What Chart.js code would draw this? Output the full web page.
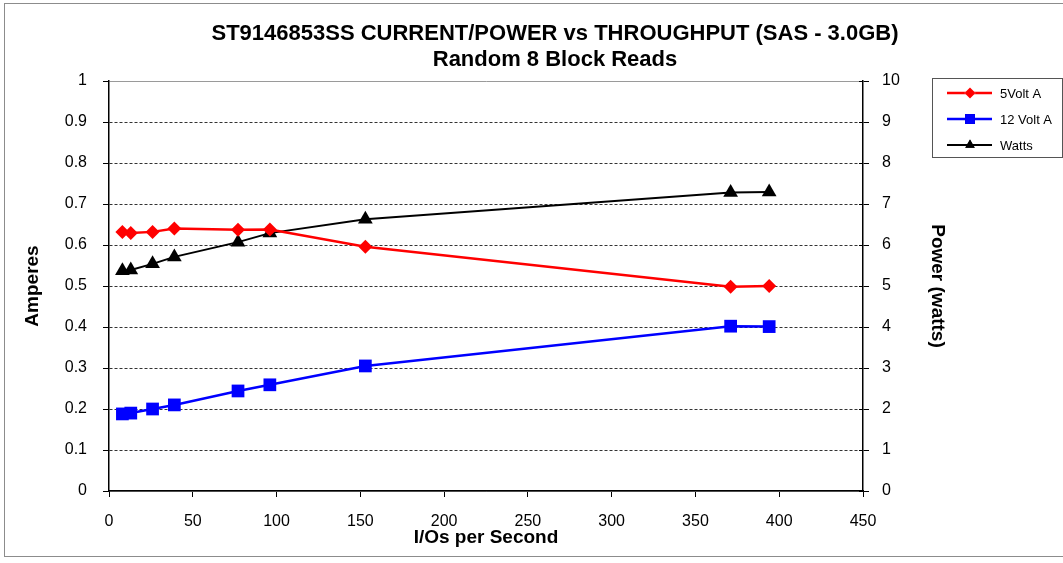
<!DOCTYPE html>
<html>
<head>
<meta charset="utf-8">
<script src="https://cdn.jsdelivr.net/npm/chart.js@4.4.1/dist/chart.umd.min.js"></script>
<style>
  html, body { margin: 0; padding: 0; background: #ffffff; }
  #wrap { width: 1063px; height: 563px; position: relative; }
</style>
</head>
<body>
<div id="wrap"><canvas id="c" width="1063" height="563"></canvas></div>
<script>
// ---- data ----
const titleLines = ["ST9146853SS CURRENT/POWER vs THROUGHPUT (SAS - 3.0GB)", "Random 8 Block Reads"];
const iops = [8, 13, 26, 39, 77, 96, 153, 371, 394];
const volt5Amps = [0.632, 0.629, 0.632, 0.640, 0.637, 0.638, 0.596, 0.498, 0.500];
const volt12Amps = [0.188, 0.190, 0.200, 0.210, 0.244, 0.259, 0.305, 0.402, 0.401];
const watts = [5.37, 5.39, 5.54, 5.71, 6.07, 6.29, 6.63, 7.28, 7.29];
const seriesNames = ["5Volt A", "12 Volt A", "Watts"];
const xAxisTitle = "I/Os per Second";
const leftAxisTitle = "Amperes";
const rightAxisTitle = "Power (watts)";

const FONT = "'Liberation Sans', Arial, Helvetica, sans-serif";
const pts = (xs, ys) => xs.map((x, i) => ({ x: x, y: ys[i] }));

const seriesStyles = [
  { color: '#ff0000', point: 'rectRot', radius: 7, width: 2.5, axis: 'y' },
  { color: '#0000ff', point: 'rect', radius: 9, width: 2.5, axis: 'y' },
  { color: '#000000', point: 'triangle', radius: 8.5, width: 2, axis: 'y1' }
];
const seriesData = [volt5Amps, volt12Amps, watts];

const datasets = seriesData.map((ys, i) => ({
  label: seriesNames[i],
  data: pts(iops, ys),
  yAxisID: seriesStyles[i].axis,
  borderColor: seriesStyles[i].color,
  backgroundColor: seriesStyles[i].color,
  borderWidth: seriesStyles[i].width,
  pointStyle: seriesStyles[i].point,
  pointRadius: seriesStyles[i].radius,
  pointHoverRadius: seriesStyles[i].radius,
  pointBorderWidth: 0,
  tension: 0
}));

const frameAndTitle = {
  id: 'frameAndTitle',
  afterDraw(chart) {
    const ctx = chart.ctx;
    ctx.save();
    // outer frame
    ctx.strokeStyle = '#8c8c8c';
    ctx.lineWidth = 1;
    ctx.strokeRect(4.5, 3.5, 1070, 553);
    // right axis ticks also cross inward
    const y1 = chart.scales.y1;
    ctx.strokeStyle = '#000';
    ctx.beginPath();
    y1.ticks.forEach(t => {
      const py = Math.round(y1.getPixelForValue(t.value)) + 0.5;
      ctx.moveTo(y1.left - 4, py);
      ctx.lineTo(y1.left, py);
    });
    ctx.stroke();
    // title
    ctx.fillStyle = '#000';
    ctx.textAlign = 'center';
    ctx.textBaseline = 'middle';
    ctx.font = 'bold 22px ' + FONT;
    ctx.fillText(titleLines[0], 555, 34);
    ctx.fillText(titleLines[1], 555, 60);
    // legend
    const lx = 932.5, ly = 78.5, lw = 130, lh = 79;
    ctx.fillStyle = '#fff';
    ctx.fillRect(lx, ly, lw, lh);
    ctx.strokeStyle = '#555';
    ctx.strokeRect(lx, ly, lw, lh);
    const rowY = [93, 119, 145];
    chart.data.datasets.forEach((ds, i) => {
      const y = rowY[i];
      ctx.strokeStyle = ds.borderColor;
      ctx.lineWidth = ds.borderWidth;
      ctx.beginPath();
      ctx.moveTo(947, y);
      ctx.lineTo(992, y);
      ctx.stroke();
      Chart.helpers.drawPoint(ctx, {
        pointStyle: ds.pointStyle,
        radius: i === 1 ? 7 : 5.5,
        borderWidth: 0,
        rotation: 0
      }, 970, y);
      ctx.fillStyle = ds.backgroundColor;
      ctx.fill();
      ctx.fillStyle = '#000';
      ctx.textAlign = 'left';
      ctx.font = '13px ' + FONT;
      ctx.fillText(ds.label, 1000, y + 1);
    });
    ctx.restore();
  }
};

const tickFont = { family: FONT, size: 16 };
const titleFont = { family: FONT, size: 19, weight: 'bold' };
const fmt = (v) => String(Number(Number(v).toFixed(2)));

new Chart(document.getElementById('c'), {
  type: 'line',
  data: { datasets: datasets },
  options: {
    responsive: false,
    animation: false,
    layout: { padding: { left: 17, right: 110, top: 81, bottom: 10 } },
    plugins: { legend: { display: false }, title: { display: false }, tooltip: { enabled: false } },
    scales: {
      x: {
        type: 'linear',
        min: 0, max: 450,
        ticks: { stepSize: 50, color: '#000', font: tickFont, padding: 15, maxRotation: 0, callback: fmt },
        grid: { drawOnChartArea: false, drawTicks: true, tickLength: 6, tickColor: '#000', tickWidth: 1 },
        border: { display: true, color: '#000', width: 1.5 },
        title: { display: true, text: xAxisTitle, color: '#000', font: titleFont },
        afterFit(s) { s.height = 62; }
      },
      y: {
        position: 'left',
        min: 0, max: 1,
        ticks: { stepSize: 0.1, color: '#000', font: tickFont, padding: 16, callback: fmt },
        grid: {
          drawOnChartArea: true, drawTicks: true, tickLength: 6,
          color: (c) => (c.tick && (c.tick.value >= 0.999 || c.tick.value <= 0.001)) ? '#9a9a9a' : '#333',
          lineWidth: 1,
          tickColor: '#000', tickWidth: 1, tickBorderDash: []
        },
        border: {
          display: true, color: '#000', width: 1.5,
          dash: (c) => (c.tick && (c.tick.value >= 0.999 || c.tick.value <= 0.001)) ? [] : [3, 2]
        },
        title: { display: true, text: leftAxisTitle, color: '#000', font: titleFont },
        afterFit(s) { s.width = 92; }
      },
      y1: {
        position: 'right',
        min: 0, max: 10,
        ticks: { stepSize: 1, color: '#000', font: tickFont, padding: 13, callback: fmt },
        grid: { drawOnChartArea: false, drawTicks: true, tickLength: 6, tickColor: '#000', tickWidth: 1 },
        border: { display: true, color: '#000', width: 1.5 },
        title: { display: true, text: rightAxisTitle, color: '#000', font: titleFont },
        afterFit(s) { s.width = 90; }
      }
    }
  },
  plugins: [frameAndTitle]
});
</script>
</body>
</html>
